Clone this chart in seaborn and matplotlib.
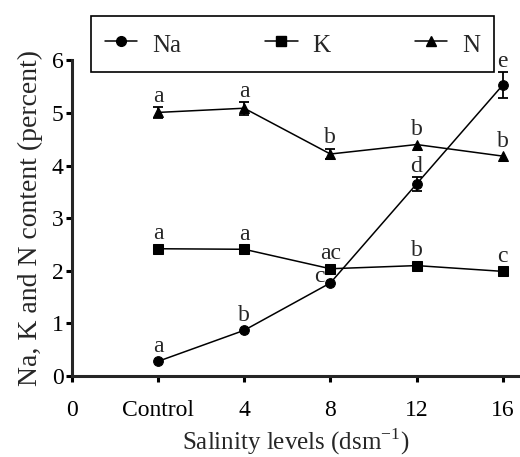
import matplotlib
matplotlib.use("Agg")
import matplotlib.pyplot as plt
from matplotlib.font_manager import FontProperties
import pandas as pd
import seaborn as sns

levels = ["Control", "4", "8", "12", "16"]
na = [0.28, 0.87, 1.77, 3.65, 5.53]
na_err = [0.0, 0.0, 0.0, 0.13, 0.24]
k = [2.42, 2.41, 2.04, 2.10, 1.99]
k_err = [0.0, 0.0, 0.0, 0.0, 0.0]
n = [5.01, 5.09, 4.22, 4.40, 4.18]
n_err = [0.10, 0.12, 0.10, 0.0, 0.0]
na_letters = ["a", "b", "c", "d", "e"]
k_letters = ["a", "a", "ac", "b", "c"]
n_letters = ["a", "a", "b", "b", "b"]

x = list(range(1, len(levels) + 1))
df = pd.DataFrame({"x": x * 3,
                   "value": na + k + n,
                   "ion": ["Na"] * 5 + ["K"] * 5 + ["N"] * 5})

sns.set_style("ticks")
plt.rcParams["font.family"] = ["Liberation Serif", "DejaVu Serif"]
plt.rcParams["mathtext.fontset"] = "custom"
plt.rcParams["mathtext.rm"] = "Liberation Serif"

fig = plt.figure(figsize=(5.2, 4.57), dpi=100)
ax = fig.add_axes([0.138, 0.177, 0.862, 0.691])

markers = {"Na": "o", "K": "s", "N": "^"}
sns.lineplot(data=df, x="x", y="value", hue="ion", style="ion",
             markers=markers, dashes=False, palette=["black"] * 3,
             markersize=7, linewidth=1.1, markeredgecolor="black",
             ax=ax, legend=False)

for vals, errs in [(na, na_err), (k, k_err), (n, n_err)]:
    xs = [xi for xi, e in zip(x, errs) if e > 0]
    vs = [v for v, e in zip(vals, errs) if e > 0]
    es = [e for e in errs if e > 0]
    if xs:
        ax.errorbar(xs, vs, yerr=es, fmt="none", ecolor="black",
                    elinewidth=1.3, capsize=3.5, capthick=1.3)

for letters, vals, errs in [(na_letters, na, na_err),
                            (k_letters, k, k_err),
                            (n_letters, n, n_err)]:
    for i, (lab, v, e) in enumerate(zip(letters, vals, errs)):
        if vals is na and lab == "c":
            ax.text(x[i] - 0.13, v + 0.02, lab, ha="center",
                    va="baseline", fontsize=17)
            continue
        ax.text(x[i], v + max(e, 0.08) + 0.1, lab, ha="center",
                va="baseline", fontsize=17)

ax.set_xlim(0, 5.2)
ax.set_ylim(0, 6)
ax.set_xticks([0] + x)
ax.set_xticklabels(["0"] + levels, fontsize=17)
ax.set_yticks(range(0, 7))
ax.set_yticklabels([str(i) for i in range(0, 7)], fontsize=17)
ax.set_xlabel("Salinity levels (dsm$^{\\mathrm{-1}}$)", fontsize=18,
              labelpad=4)
ax.set_ylabel("Na, K and N content (percent)", fontsize=20, labelpad=6)

sns.despine(ax=ax)
for side in ["left", "bottom"]:
    ax.spines[side].set_linewidth(2.2)
ax.tick_params(axis="both", direction="out", width=2.2, length=4,
               colors="black")
ax.tick_params(axis="x", pad=13)
ax.tick_params(axis="y", pad=2)

handles = [plt.Line2D([], [], color="black", marker=markers[s], markersize=7,
                      linewidth=1.1) for s in ["Na", "K", "N"]]
leg = fig.legend(handles, ["Na", "K", "N"], ncol=3, mode="expand",
                 bbox_to_anchor=(91 / 520, 1 - 16 / 457, 403 / 520, 0),
                 loc="upper left",
                 prop=FontProperties(family="Liberation Serif", size=18),
                 frameon=True, fancybox=False,
                 handlelength=1.3, handleheight=1.4, handletextpad=0.6,
                 borderpad=0.55, borderaxespad=0)
leg.get_frame().set_edgecolor("black")
leg.get_frame().set_linewidth(1.2)
leg.get_frame().set_alpha(None)

fig.savefig("out.png", dpi=100)
